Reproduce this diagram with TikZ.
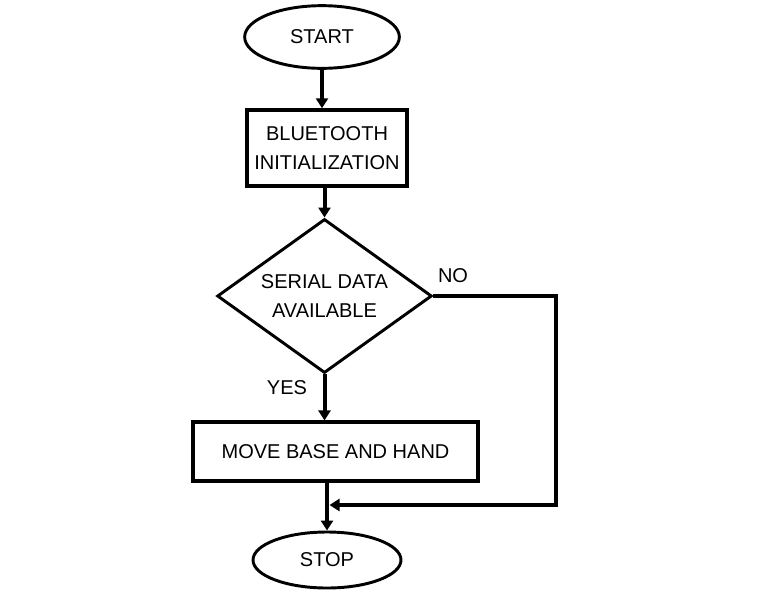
\documentclass[tikz,border=0pt]{standalone}
\usepackage{fontspec}
\setmainfont{Liberation Sans}
\usetikzlibrary{shapes.geometric,arrows.meta}
\begin{document}
\begin{tikzpicture}[x=0.75pt,y=-0.75pt,
  every node/.style={font=\fontsize{15pt}{22pt}\selectfont, align=center},
  term/.style={ellipse, draw, line width=2.2pt, inner sep=0pt},
  proc/.style={rectangle, draw, line width=2.6pt, inner sep=0pt},
  dec/.style={diamond, draw, line width=2.2pt, inner sep=0pt, shape aspect=1.4},
  conn/.style={line width=3pt},
  arr/.style={conn, -{Triangle[width=9pt,length=7.5pt]}},
  lbl/.style={inner sep=0pt}]
\useasboundingbox (0,0) rectangle (764,611);
\node[term, minimum width=116pt, minimum height=47pt] (start) at (322,37) {START};
\node[proc, minimum width=120pt, minimum height=57pt] (blue) at (327,148) {BLUETOOTH\\INITIALIZATION};
\node[dec, minimum width=161pt, minimum height=115.5pt] (dia) at (324.5,296) {SERIAL DATA\\AVAILABLE};
\node[proc, minimum width=214pt, minimum height=44pt] (move) at (335.5,451.5) {MOVE BASE AND HAND};
\node[term, minimum width=111pt, minimum height=42pt] (stop) at (327,560) {STOP};
\node[lbl] (no) at (453,276) {NO};
\node[lbl] (yes) at (287,388) {YES};
\coordinate (c1) at (556,296);
\coordinate (j) at (329.5,505);
\draw[arr] (start.south) -- (start.south |- blue.north);
\draw[arr] (dia.north |- blue.south) -- (dia.north);
\draw[arr] (dia.south) -- (dia.south |- move.north);
\draw[arr] (stop.north |- move.south) -- (stop.north);
\draw[arr] (dia.east) -- (c1) |- (j);
\end{tikzpicture}
\end{document}
